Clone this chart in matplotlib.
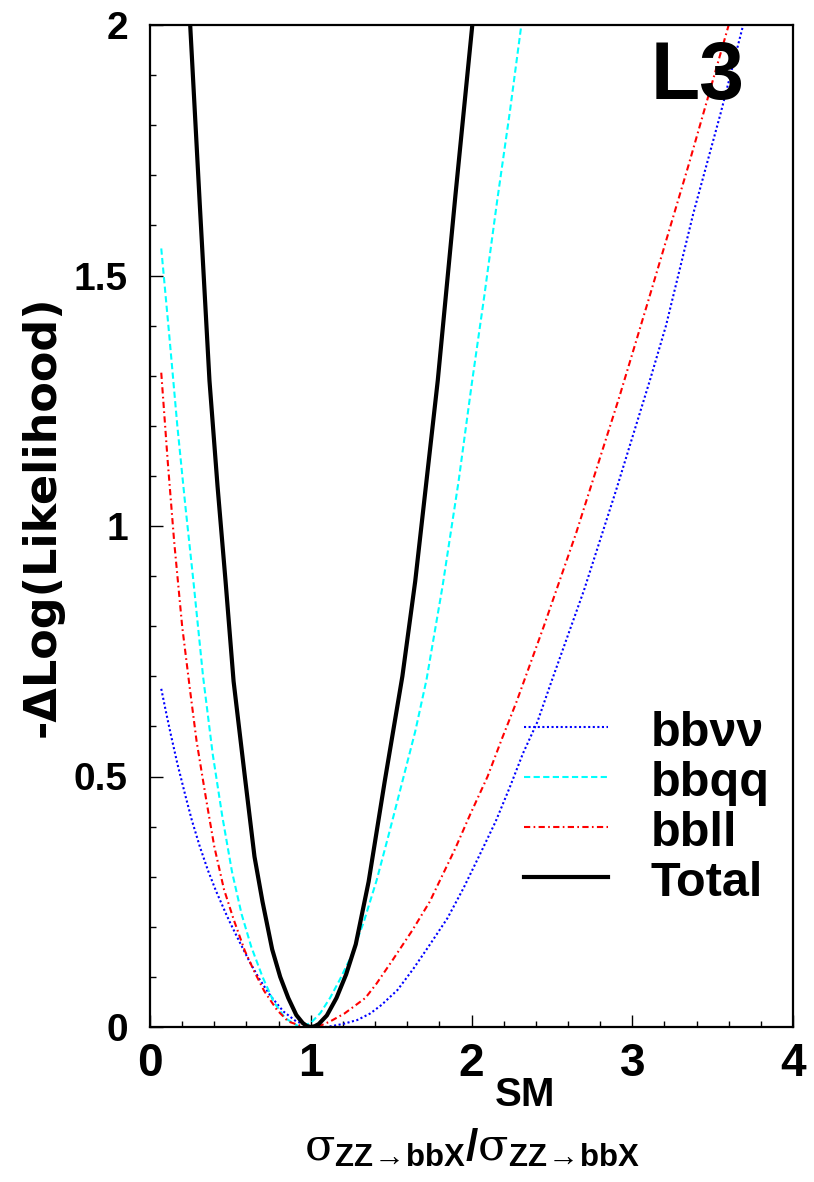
import matplotlib
matplotlib.use("Agg")
import matplotlib.pyplot as plt
from matplotlib import font_manager
from matplotlib.ticker import MultipleLocator

# curves
total_x = [0.25, 0.31, 0.37, 0.42, 0.47, 0.52, 0.59, 0.65, 0.70, 0.76, 0.81, 0.86, 0.91, 0.95, 0.975,
           1.00, 1.025, 1.05, 1.10, 1.16, 1.22, 1.28, 1.36, 1.46, 1.57, 1.65, 1.72, 1.79, 1.90, 2.005]
total_y = [2.00, 1.64, 1.29, 1.08, 0.89, 0.69, 0.50, 0.34, 0.25, 0.155, 0.10, 0.058, 0.024, 0.008, 0.002,
           0.0, 0.0015, 0.006, 0.023, 0.058, 0.105, 0.165, 0.29, 0.49, 0.70, 0.89, 1.09, 1.29, 1.66, 2.00]

bbqq_x = [0.07, 0.12, 0.17, 0.22, 0.27, 0.33, 0.39, 0.45, 0.51, 0.57, 0.63, 0.70, 0.77, 0.84, 0.93,
          1.00, 1.06, 1.12, 1.18, 1.25, 1.33, 1.41, 1.49, 1.57, 1.65, 1.72, 1.82, 1.92, 2.00, 2.08,
          2.16, 2.24, 2.31]
bbqq_y = [1.554, 1.38, 1.20, 1.04, 0.89, 0.70, 0.545, 0.42, 0.31, 0.225, 0.16, 0.10, 0.05, 0.018, 0.0,
          0.008, 0.028, 0.058, 0.094, 0.14, 0.21, 0.293, 0.39, 0.49, 0.59, 0.693, 0.88, 1.09, 1.28, 1.46,
          1.65, 1.83, 2.0]

bbll_x = [0.07, 0.11, 0.15, 0.20, 0.25, 0.29, 0.35, 0.40, 0.46, 0.52, 0.59, 0.65, 0.71, 0.79, 0.86,
          0.95, 1.04, 1.12, 1.21, 1.34, 1.41, 1.51, 1.63, 1.74, 1.90, 1.99, 2.10, 2.19, 2.28, 2.45,
          2.65, 2.92, 3.10, 3.35, 3.60]
bbll_y = [1.306, 1.13, 0.97, 0.80, 0.67, 0.57, 0.453, 0.36, 0.275, 0.215, 0.152, 0.11, 0.072, 0.034,
          0.011, 0.001, 0.0, 0.011, 0.027, 0.058, 0.087, 0.134, 0.192, 0.25, 0.357, 0.423, 0.50, 0.576,
          0.649, 0.80, 0.985, 1.258, 1.45, 1.72, 2.0]

bbnn_x = [0.07, 0.10, 0.13, 0.17, 0.22, 0.26, 0.31, 0.36, 0.41, 0.47, 0.50, 0.56, 0.62, 0.68, 0.75,
          0.83, 0.91, 1.00, 1.10, 1.20, 1.29, 1.37, 1.44, 1.54, 1.64, 1.74, 1.85, 1.95, 2.05, 2.15,
          2.24, 2.32, 2.41, 2.50, 2.70, 2.90, 3.11, 3.21, 3.38, 3.55, 3.69]
bbnn_y = [0.675, 0.628, 0.583, 0.526, 0.462, 0.413, 0.36, 0.313, 0.272, 0.228, 0.207, 0.168, 0.13,
          0.096, 0.062, 0.031, 0.011, 0.002, 0.0, 0.006, 0.014, 0.027, 0.044, 0.074, 0.117, 0.164,
          0.217, 0.277, 0.343, 0.41, 0.48, 0.546, 0.609, 0.692, 0.872, 1.072, 1.291, 1.40, 1.624,
          1.824, 2.0]

labels = ["bb\u03bd\u03bd", "bbqq", "bbll", "Total"]

names = {f.name for f in font_manager.fontManager.ttflist}
narrow = "Liberation Sans Narrow" if "Liberation Sans Narrow" in names else "Liberation Sans"
NARROW = [narrow, "DejaVu Sans"]

plt.rcParams["mathtext.fontset"] = "custom"
plt.rcParams["mathtext.rm"] = narrow + ":bold"
plt.rcParams["mathtext.bf"] = narrow + ":bold"
plt.rcParams["mathtext.it"] = "DejaVu Serif"

fig = plt.figure(figsize=(8.14, 11.82), dpi=100)
ax = fig.add_axes([150 / 814, 1 - 1027 / 1182, 643 / 814, 1002 / 1182])

styles = [
    dict(color="blue", lw=1.5, dashes=(1, 1.2)),
    dict(color="cyan", lw=1.5, dashes=(3, 1.6)),
    dict(color="red", lw=1.5, dashes=(3, 1.6, 0.8, 1.6)),
    dict(color="black", lw=3.0),
]
series = [(bbnn_x, bbnn_y), (bbqq_x, bbqq_y), (bbll_x, bbll_y), (total_x, total_y)]
for (xs, ys), st in zip(series, styles):
    ax.plot(xs, ys, solid_joinstyle="round", **st)

ax.set_xlim(0, 4)
ax.set_ylim(0, 2)
ax.xaxis.set_minor_locator(MultipleLocator(0.2))
ax.yaxis.set_minor_locator(MultipleLocator(0.1))
ax.set_xticks([0, 1, 2, 3, 4], ["0", "1", "2", "3", "4"])
ax.set_yticks([0, 0.5, 1, 1.5, 2], ["0", "0.5", "1", "1.5", "2"])
ax.tick_params(which="both", direction="in", top=False, right=False, width=1.0)
ax.tick_params(which="major", length=9)
ax.tick_params(which="minor", length=4)
ax.tick_params(axis="x", pad=11)
ax.tick_params(axis="y", pad=16)
for lab in ax.get_xticklabels():
    lab.set_fontfamily(NARROW)
    lab.set_fontweight("bold")
    lab.set_fontsize(33)
for lab in ax.get_yticklabels():
    lab.set_fontfamily(["Liberation Sans", "DejaVu Sans"])
    lab.set_fontweight("bold")
    lab.set_fontsize(28)
for sp in ax.spines.values():
    sp.set_linewidth(1.6)

ax.set_ylabel("-\u0394Log(Likelihood)", fontfamily="DejaVu Sans", fontweight="bold",
              fontsize=32, va="center")
ax.yaxis.set_label_coords(-0.168, 0.51)

ax.text(0.5, -0.133,
        r"$\sigma_{\mathrm{ZZ\!\rightarrow\!bbX}}/\sigma_{\mathrm{ZZ\!\rightarrow\!bbX}}$",
        transform=ax.transAxes, ha="center", va="baseline", fontsize=32)
ax.text(0.584, -0.079, "SM", transform=ax.transAxes, ha="center", va="baseline",
        fontfamily=NARROW, fontweight="bold", fontsize=29)

ax.text(0.925, 0.985, "L3", transform=ax.transAxes, ha="right", va="top",
        fontfamily=NARROW, fontweight="bold", fontsize=58)

# legend drawn by hand to keep the tight row spacing
rows_y = [0.2994, 0.2495, 0.1996, 0.1497]
for yy, st, lab in zip(rows_y, styles, labels):
    ax.plot([0.5817, 0.7123], [yy, yy], transform=ax.transAxes, **st)
    ax.text(0.779, yy - 0.019, lab, transform=ax.transAxes, ha="left", va="baseline",
            fontfamily=NARROW, fontweight="bold", fontsize=35)

fig.savefig("out.png", dpi=100)
